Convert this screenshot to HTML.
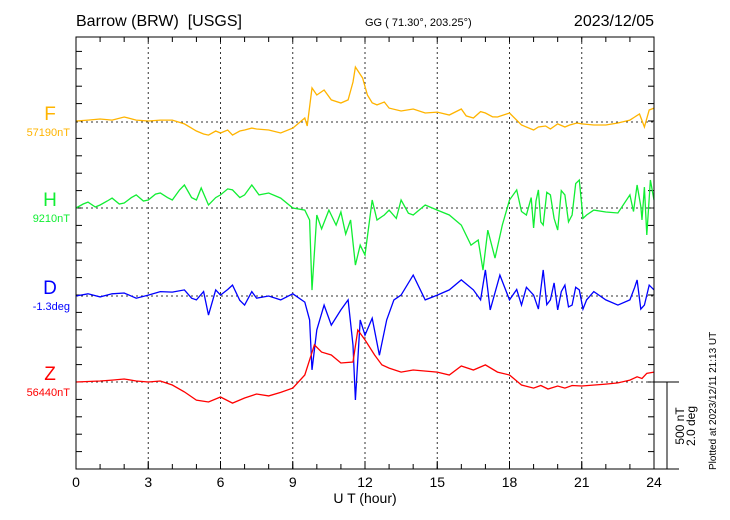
<!DOCTYPE html>
<html><head><meta charset="utf-8"><style>
body{margin:0;background:#fff;}
svg{display:block;font-family:"Liberation Sans",sans-serif;}
</style></head><body>
<svg id="c" width="730" height="520">
<text x="76" y="26" font-size="16">Barrow (BRW)&#160;&#160;[USGS]</text>
<text x="365" y="26" font-size="11">GG ( 71.30°, 203.25°)</text>
<text x="654" y="26" font-size="16" text-anchor="end">2023/12/05</text>
<text x="365" y="503" font-size="14" text-anchor="middle">U T (hour)</text>
<text transform="translate(684,426) rotate(-90)" font-size="12" text-anchor="middle">500 nT</text>
<text transform="translate(695,426) rotate(-90)" font-size="12" text-anchor="middle">2.0 deg</text>
<text transform="translate(716,470) rotate(-90)" font-size="10">Plotted at 2023/12/11 21:13 UT</text>
</svg>
<script>
const xTicks=[0,3,6,9,12,15,18,21,24];
const fT=[0,0.5,1,1.5,2,2.5,3,3.5,4,4.5,5,5.3,5.5,5.8,6,6.3,6.5,6.8,7,7.3,7.5,8,8.5,9,9.5,9.6,9.8,10,10.3,10.6,11,11.3,11.5,11.6,11.9,12.1,12.3,12.5,12.8,13,13.5,14,14.5,15,15.5,16,16.2,16.5,16.8,17,17.3,17.5,18,18.5,19,19.2,19.5,19.7,20,20.3,20.5,20.8,21,21.5,22,22.5,23,23.2,23.4,23.6,23.8,24];
const fV=[6,11,17,11,29,11,6,11,11,-11,-52,-69,-75,-52,-63,-46,-75,-52,-46,-35,-40,-46,-63,-35,23,-23,196,155,184,127,109,127,230,316,253,155,110,98,115,80,63,75,52,57,40,75,35,23,60,52,30,29,52,-17,-46,-29,-23,-40,-11,-29,-17,-6,-11,-17,-17,-6,11,29,46,-29,69,80];
const hT=[0,0.3,0.5,0.8,1,1.3,1.5,1.8,2,2.3,2.5,2.8,3,3.3,3.5,3.8,4,4.3,4.5,4.8,5,5.2,5.5,5.8,6,6.3,6.5,6.8,7,7.3,7.6,8,8.5,9,9.5,9.7,9.8,10,10.2,10.5,10.8,11,11.2,11.4,11.6,11.8,12,12.3,12.5,12.8,13,13.3,13.5,13.8,14,14.5,15,15.5,16,16.4,16.7,16.9,17.1,17.4,17.7,18,18.3,18.5,18.7,18.9,19,19.1,19.2,19.3,19.4,19.55,19.7,19.85,20,20.15,20.3,20.45,20.6,20.75,20.9,21.05,21.2,21.5,22,22.5,23,23.15,23.3,23.45,23.5,23.6,23.7,23.85,24];
const hV=[0,23,34,6,17,40,57,23,29,60,75,40,46,80,86,60,46,104,132,60,46,115,17,60,75,110,104,60,75,132,75,86,57,0,-12,-69,-472,-40,-120,-12,-98,-23,-150,-69,-328,-213,-270,46,-69,-40,-12,-60,46,-30,-40,17,-12,-40,-98,-213,-184,-357,-127,-288,-98,46,104,-20,-40,60,-115,40,104,-80,-98,90,75,-60,-127,100,75,-80,-40,140,161,-60,-40,-12,-23,-29,75,-20,132,10,-69,120,-155,161,46];
const dT=[0,0.5,1,1.5,2,2.5,3,3.5,4,4.5,4.8,5,5.3,5.5,5.8,6,6.3,6.5,6.8,7,7.3,7.5,8,8.5,9,9.5,9.7,9.8,10,10.3,10.6,11,11.3,11.5,11.6,11.8,12,12.3,12.6,12.9,13.2,13.5,14,14.5,15,15.5,16,16.5,16.8,17,17.2,17.6,18,18.3,18.5,18.7,19,19.2,19.4,19.55,19.7,19.85,20,20.15,20.3,20.45,20.6,20.75,20.9,21.05,21.2,21.5,22,22.5,23,23.2,23.3,23.45,23.6,23.8,24];
const dV=[0,0.05,-0.02,0.05,0.07,-0.05,0.02,0.1,0.09,0.14,-0.05,-0.09,0.1,-0.44,0.14,0.02,0.15,0.25,-0.1,-0.21,0.1,-0.05,0,-0.09,0.05,-0.14,-0.55,-1.7,-0.78,-0.21,-0.67,-0.32,-0.09,-1.13,-2.39,-0.55,-0.9,-0.51,-1.36,-0.55,-0.09,0.02,0.48,-0.09,0.02,0.14,0.37,0.14,-0.09,0.6,-0.32,0.48,-0.09,0.15,-0.21,0.2,0.02,-0.3,0.6,-0.2,-0.09,0.3,-0.32,0.1,0.25,-0.25,-0.21,0.2,0.14,-0.3,-0.09,0.1,-0.09,-0.21,-0.09,0.2,0.37,-0.3,-0.21,0.25,0.14];
const zT=[0,0.5,1,1.5,2,2.5,3,3.5,4,4.5,5,5.5,6,6.5,7,7.5,8,8.5,9,9.5,9.7,9.9,10.2,10.6,11,11.5,11.7,12,12.4,12.7,13,13.5,14,15,15.5,16,16.5,17,17.5,18,18.5,19,19.3,19.6,20,20.3,20.6,21,22,22.5,23,23.3,23.5,23.7,24];
const zV=[0,3,6,11,17,6,0,6,-17,-57,-104,-115,-86,-121,-92,-69,-80,-60,-35,40,127,213,172,155,109,115,299,242,155,98,80,57,69,57,40,92,69,98,57,40,-17,-35,-20,-40,-23,-35,-20,-23,-12,-5,11,30,20,50,57];
const series=[
 {n:'f',t:fT,v:fV,base:122,k:87/500,col:'#ffb400',lab:'F',sub:'57190nT'},
 {n:'h',t:hT,v:hV,base:208,k:87/500,col:'#11ee33',lab:'H',sub:'9210nT'},
 {n:'d',t:dT,v:dV,base:296,k:87/2.0,col:'#0000ff',lab:'D',sub:'-1.3deg'},
 {n:'z',t:zT,v:zV,base:382,k:87/500,col:'#ff0000',lab:'Z',sub:'56440nT'}];
const L=76,R=654,T=37,B=469;
const xs=t=>L+t*(R-L)/24;
const svg=document.getElementById('c');
const NS='http://www.w3.org/2000/svg';
function mk(tag,a){const e=document.createElementNS(NS,tag);for(const k in a)e.setAttribute(k,a[k]);svg.appendChild(e);return e;}
xTicks.forEach(t=>{if(t>0&&t<24){const g=mk('line',{x1:xs(t),x2:xs(t),y1:T,y2:B,stroke:'#333','stroke-dasharray':'2,3','stroke-width':1});

}
const lb=mk('text',{x:xs(t),y:487,'font-size':14,'text-anchor':'middle'});lb.textContent=t;


const tk=mk('line',{x1:xs(t),x2:xs(t),y1:B,y2:B-8,stroke:'#000'});

});
for(let h=1;h<24;h++){const tk=mk('line',{x1:xs(h),x2:xs(h),y1:T,y2:T+5,stroke:'#000'});


const tb=mk('line',{x1:xs(h),x2:xs(h),y1:B,y2:B-5,stroke:'#000'});

}
for(let i=1;i<25;i++){const y=B-i*87/5;const a=mk('line',{x1:L,x2:L+6,y1:y,y2:y,stroke:'#000'});


const b=mk('line',{x1:R,x2:R-6,y1:y,y2:y,stroke:'#000'});

}
series.forEach(s=>{
 const g=mk('line',{x1:L,x2:R,y1:s.base,y2:s.base,stroke:'#333','stroke-dasharray':'2,3'});
 
 
 const p=mk('polyline',{fill:'none',stroke:s.col,'stroke-width':1.3,points:s.t.map((t,i)=>xs(t).toFixed(1)+','+(s.base-s.v[i]*s.k).toFixed(1)).join(' ')});
 
 
 const l=mk('text',{x:50,y:s.base-2,'font-size':19,fill:s.col,'text-anchor':'middle'});l.textContent=s.lab;
 
 
 const u=mk('text',{x:70,y:s.base+14,'font-size':11,fill:s.col,'text-anchor':'end'});u.textContent=s.sub;
 
 
});
const fr=mk('rect',{x:L,y:T,width:R-L,height:B-T,fill:'none',stroke:'#000','stroke-width':1});


const e1=mk('line',{x1:R,x2:679,y1:B,y2:B,stroke:'#000'});


const e2=mk('line',{x1:R,x2:679,y1:382,y2:382,stroke:'#000'});


const e3=mk('line',{x1:667,x2:667,y1:382,y2:B,stroke:'#000'});


</script>
</body></html>
